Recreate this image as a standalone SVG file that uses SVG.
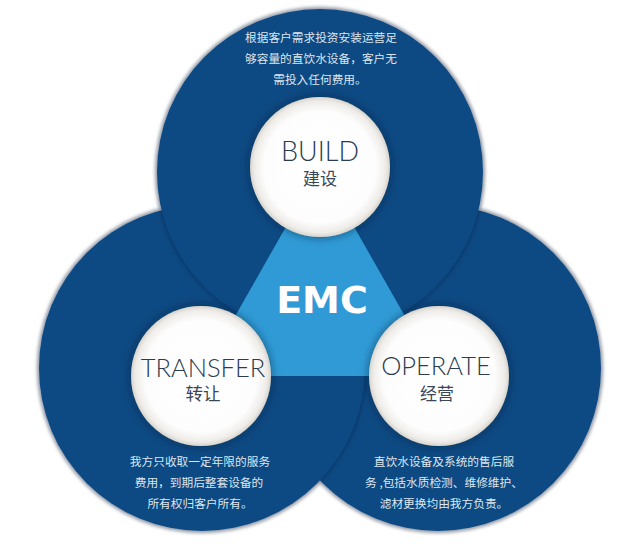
<svg xmlns="http://www.w3.org/2000/svg" width="640" height="556" viewBox="0 0 640 556">
<defs>
<radialGradient id="wg" cx="50%" cy="50%" r="50%">
<stop offset="0" stop-color="#ffffff"/>
<stop offset="0.8" stop-color="#fdfdfd"/>
<stop offset="0.94" stop-color="#eeece8"/>
<stop offset="1" stop-color="#d8d4ce"/>
</radialGradient>
<filter id="edge" x="-20%" y="-20%" width="140%" height="140%">
<feGaussianBlur stdDeviation="1.5"/>
</filter>
<filter id="bigsh" x="-20%" y="-20%" width="140%" height="140%">
<feDropShadow dx="0" dy="0" stdDeviation="2.5" flood-color="#001020" flood-opacity="0.45"/>
</filter>
<filter id="wsh" x="-30%" y="-30%" width="160%" height="160%">
<feDropShadow dx="0" dy="0" stdDeviation="4" flood-color="#001a33" flood-opacity="0.6"/>
</filter>
</defs>
<style>
.rim{fill:#c9ced4;filter:url(#edge)}
.big{fill:#0b4a82;filter:url(#bigsh)}
.white{fill:url(#wg);filter:url(#wsh)}
.en{font-family:Lato,"Open Sans","Liberation Sans",sans-serif;font-weight:300;fill:#2a3c50;text-anchor:middle}
.cn{font-family:"Noto Sans CJK SC",sans-serif;fill:#3a4656;text-anchor:middle}
.desc{font-family:"Noto Sans CJK SC",sans-serif;font-size:11.7px;fill:#dde6ef;text-anchor:middle}
</style>
<rect width="640" height="556" fill="#ffffff"/>
<g id="rims">
<circle class="rim" cx="438" cy="368" r="165.5"/>
<circle class="rim" cx="202" cy="368" r="165.5"/>
<circle class="rim" cx="320" cy="172" r="165.5"/>
</g>
<g id="ring-operate">
<circle class="big" cx="438" cy="368" r="163"/>
<text class="desc" x="444" y="466">直饮水设备及系统的售后服</text>
<text class="desc" x="444" y="487">务 ,包括水质检测、维修维护、</text>
<text class="desc" x="444" y="508">滤材更换均由我方负责。</text>
</g>
<g id="ring-transfer">
<circle class="big" cx="202" cy="368" r="163"/>
<text class="desc" x="200" y="466">我方只收取一定年限的服务</text>
<text class="desc" x="199" y="487">费用，到期后整套设备的</text>
<text class="desc" x="200" y="508">所有权归客户所有。</text>
</g>
<g id="ring-build">
<circle class="big" cx="320" cy="172" r="163"/>
<text class="desc" x="321" y="42">根据客户需求投资安装运营足</text>
<text class="desc" x="321" y="63">够容量的直饮水设备，客户无</text>
<text class="desc" x="320" y="84">需投入任何费用。</text>
</g>
<g id="emc">
<polygon points="320,167 201,376 439,376" fill="#2f9ad5"/>
<text x="322" y="313" font-family="'DejaVu Sans',sans-serif" font-weight="bold" font-size="38" fill="#ffffff" text-anchor="middle">EMC</text>
</g>
<g id="build">
<circle class="white" cx="320" cy="167" r="70"/>
<text class="en" x="320" y="161" font-size="27">BUILD</text>
<text class="cn" x="320" y="185" font-size="17">建设</text>
</g>
<g id="transfer">
<circle class="white" cx="201" cy="376" r="70"/>
<text class="en" x="203" y="377" font-size="25.5">TRANSFER</text>
<text class="cn" x="203" y="400" font-size="17.5">转让</text>
</g>
<g id="operate">
<circle class="white" cx="439" cy="376" r="70"/>
<text class="en" x="436" y="375" font-size="25.5">OPERATE</text>
<text class="cn" x="437" y="400" font-size="17">经营</text>
</g>
</svg>
